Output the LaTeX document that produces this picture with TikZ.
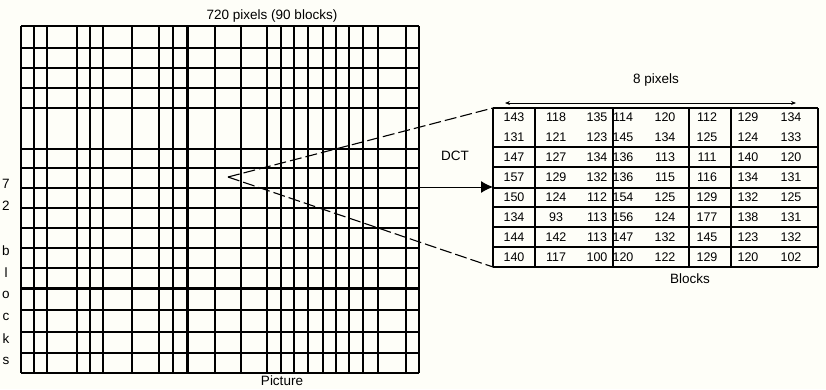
\documentclass[tikz,border=0pt]{standalone}
\usepackage{fontspec}
\setmainfont{Liberation Sans}
\usetikzlibrary{arrows.meta}
\definecolor{bg}{RGB}{254,254,248}
\begin{document}
\begin{tikzpicture}[x=1pt,y=-1pt,
  gridline/.style={line width=1.5pt},
  thickline/.style={line width=3pt},
  tabline/.style={line width=1.5pt},
  lbl/.style={font=\fontsize{13.5}{15}\selectfont, inner sep=0pt},
  num/.style={font=\fontsize{12.5}{14}\selectfont, inner sep=0pt},
  dashline/.style={line width=1.1pt, dash pattern=on 12pt off 4pt}]
\fill[bg] (0,0) rectangle (826,389);
\useasboundingbox (0,0) rectangle (826,389);
% picture grid
\foreach \x in {21,34,47,77,90,103,132,159,173,215,241,267,281,294,308,323,336,349,363,378,406,419}
  \draw[gridline] (\x,26) -- (\x,373);
\foreach \y in {26,48,68,88,108,149,168,188,208,228,248,268,310,332,353,373}
  \draw[gridline] (21,\y) -- (419,\y);
\draw[thickline] (187,26) -- (187,373);
\draw[thickline] (21,288) -- (419,288);
% labels of the picture
\node[lbl] (title) at (272,16) {720 pixels (90 blocks)};
\node[lbl] (pic) at (282,381) {Picture};
\foreach \c/\yy [count=\k] in {7/184,2/206,b/251,l/273,o/295,c/317,k/339,s/361}
  \node[lbl] (side-\k) at (6,\yy) {\c};
% block table
\foreach \x in {493,535,613,689,731,818}
  \draw[tabline] (\x,108) -- (\x,267);
\foreach \y in {108,147,167,188,207,227,247,267}
  \draw[tabline] (493,\y) -- (818,\y);
\foreach \row [count=\i] in {
  {143,118,135,114,120,112,129,134},
  {131,121,123,145,134,125,124,133},
  {147,127,134,136,113,111,140,120},
  {157,129,132,136,115,116,134,131},
  {150,124,112,154,125,129,132,125},
  {134,93,113,156,124,177,138,131},
  {144,142,113,147,132,145,123,132},
  {140,117,100,120,122,129,120,102}} {
  \foreach \v [count=\j] in \row {
    \pgfmathsetmacro\cx{{514,556,597,623,665,707,748,791}[\j-1]}
    \node[num] (n-\i-\j) at (\cx,97+20*\i) {\v};
  }
}
\node[lbl] (eight) at (656,80) {8 pixels};
\node[lbl] (blocks) at (690,279) {Blocks};
\node[lbl] (dct) at (455,156) {DCT};
% connectors
\coordinate (aL) at (505,103);
\coordinate (aR) at (796,103);
\draw[{Stealth[length=5pt,width=4pt]}-{Stealth[length=5pt,width=4pt]}, line width=0.8pt] (aL) -- (aR);
\coordinate (v) at (228,177);
\coordinate (tnw) at (493,108);
\coordinate (tsw) at (493,267);
\draw[dashline] (v) -- (tnw);
\draw[dashline] (v) -- (tsw);
\coordinate (gE) at (419,187);
\coordinate (tW) at (493,187);
\draw[-{Latex[length=12pt,width=12pt]}, line width=1pt] (gE) -- (tW);
\end{tikzpicture}
\end{document}
